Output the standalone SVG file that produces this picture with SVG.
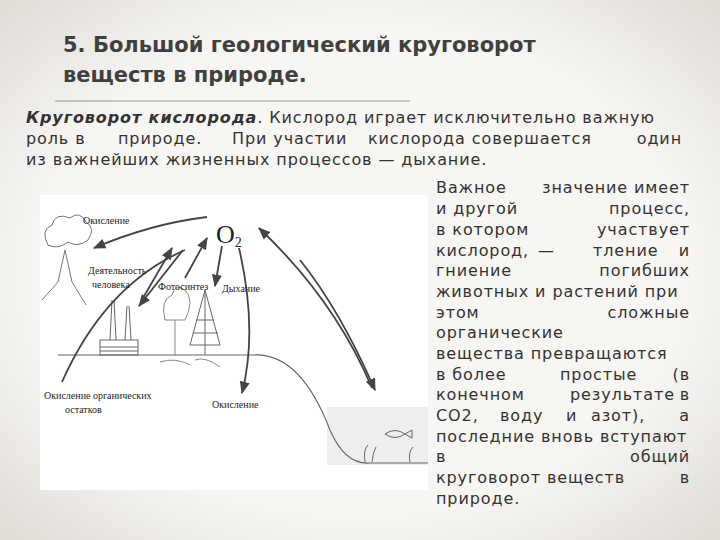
<svg xmlns="http://www.w3.org/2000/svg" width="720" height="540" viewBox="0 0 720 540">
<defs>
<radialGradient id="bg" cx="50%" cy="50%" r="75%"><stop offset="0.6" stop-color="#f7f6f3"/><stop offset="1" stop-color="#dcd8d2"/></radialGradient>
<marker id="ah" viewBox="0 0 10 10" refX="9" refY="5" markerWidth="7" markerHeight="7" orient="auto-start-reverse"><path d="M0,1 L10,5 L0,9 Z" fill="#444"/></marker>
<style>
.t{font-family:"DejaVu Sans","Noto Sans",sans-serif;fill:#333}
.h{font-size:21px;font-weight:bold;fill:#404040}
.p{font-size:16px;letter-spacing:0.9px}
.e{text-anchor:end}
.m{text-anchor:middle}
.l{font-family:"Liberation Serif",serif;fill:#222;font-size:10px}
.c{fill:none;stroke:#444;stroke-width:1.8;marker-end:url(#ah)}
.d{fill:none;stroke:#666;stroke-width:1.1}
</style>
</defs>
<rect width="720" height="540" fill="url(#bg)"/>
<g id="title">
<text class="t h" x="63" y="52">5. Большой геологический круговорот</text>
<text class="t h" x="63" y="82">веществ в природе.</text>
<line x1="55" y1="101" x2="410" y2="101" stroke="#999" stroke-width="1"/>
</g>
<g id="intro" class="t p">
<text x="26" y="123"><tspan font-style="italic" font-weight="bold">Круговорот кислорода</tspan>. Кислород играет исключительно важную</text>
<text x="26" y="144">роль в</text><text x="118" y="144">природе.</text><text x="232" y="144">При участии</text><text x="368" y="144">кислорода совершается</text><text class="e" x="682" y="144">один</text>
<text x="26" y="165">из важнейших жизненных процессов — дыхание.</text>
</g>
<g id="side" class="t p">
<text x="436" y="193">Важное</text><text class="e" x="690" y="193">значение имеет</text>
<text x="436" y="214">и другой</text><text class="e" x="690" y="214">процесс,</text>
<text x="436" y="235">в котором</text><text class="e" x="690" y="235">участвует</text>
<text x="436" y="256">кислород,</text><text x="538" y="256">—</text><text x="593" y="256">тление</text><text class="e" x="690" y="256">и</text>
<text x="436" y="276">гниение</text><text class="e" x="690" y="276">погибших</text>
<text x="436" y="297">животных и растений при</text>
<text x="436" y="318">этом</text><text class="e" x="690" y="318">сложные</text>
<text x="436" y="338">органические</text>
<text x="436" y="359">вещества превращаются</text>
<text x="436" y="380">в более</text><text x="560" y="380">простые</text><text class="e" x="690" y="380">(в</text>
<text x="436" y="400">конечном</text><text x="570" y="400">результате</text><text class="e" x="690" y="400">в</text>
<text x="436" y="421">CO2,</text><text x="500" y="421">воду</text><text x="566" y="421">и</text><text x="591" y="421">азот),</text><text class="e" x="690" y="421">а</text>
<text x="436" y="442">последние вновь вступают</text>
<text x="436" y="462">в</text><text class="e" x="690" y="462">общий</text>
<text x="436" y="483">круговорот веществ</text><text class="e" x="690" y="483">в</text>
<text x="436" y="504">природе.</text>
</g>
<g id="picture">
<rect x="40" y="195" width="388" height="295" fill="#fff"/>
<rect x="327" y="407" width="101" height="58" fill="#eeeeee"/>
<path d="M58,355 L253,355 Q300,352 330,430 Q345,465 370,463 L428,463" class="d" stroke-width="1.3"/>
<g id="volcano" fill="none" stroke="#777" stroke-width="1">
<path d="M42,300 L58,282 L65,250 L72,282 L86,305"/>
<path d="M48,245 Q40,230 52,225 Q55,212 70,218 Q80,210 86,222 Q96,228 88,240 Q78,248 68,242 Q58,250 48,245 Z"/>
</g>
<g id="factory" fill="none" stroke="#666" stroke-width="1">
<rect x="100" y="340" width="38" height="15"/>
<line x1="110" y1="340" x2="112" y2="300"/><line x1="116" y1="340" x2="114" y2="300"/>
<line x1="125" y1="340" x2="127" y2="306"/><line x1="131" y1="340" x2="129" y2="306"/>
<path d="M100,347 H138 M100,351 H138"/>
</g>
<g id="trees" fill="none" stroke="#888" stroke-width="1">
<path d="M175,355 L175,320 M165,320 Q160,300 172,295 Q175,283 185,290 Q195,300 185,320 Z"/>
<path d="M205,355 L205,290 M205,290 L190,345 L220,345 Z M196,320 L214,320 M193,333 L218,333" stroke="#666"/>
<path d="M160,362 Q175,357 190,365 M195,360 Q205,356 220,367"/>
</g>
<g id="fish" fill="none" stroke="#666">
<path d="M385,434 Q395,427 405,434 Q395,441 385,434 Z M405,434 L412,430 L412,438 Z"/>
<path d="M365,462 Q363,450 368,445 M372,462 Q373,452 376,447 M410,462 Q408,452 413,447"/>
</g>
<g id="connectors">
<path class="c" d="M207,217 Q150,224 94,248"/>
<path class="c" d="M62,382 Q105,285 185,250" style="marker-end:none"/>
<path class="c" d="M143,298 L172,248"/>
<path class="c" d="M183,250 L139,306"/>
<path class="c" d="M185,278 L207,238"/>
<path class="c" d="M222,246 L215,286"/>
<path class="c" d="M239,248 Q258,330 242,393"/>
<path class="c" d="M300,260 Q340,310 375,390"/>
<path class="c" d="M372,388 Q335,300 259,228"/>
</g>
<g id="labels">
<text x="216" y="243" font-family="Liberation Serif,serif" font-size="26" fill="#222">O<tspan font-size="14" dy="4">2</tspan></text>
<text class="l" x="83" y="224">Окисление</text>
<text class="l" x="88" y="274" font-size="8">Деятельность</text>
<text class="l" x="92" y="288" font-size="8">человека</text>
<text class="l" x="158" y="290" font-size="7">Фотосинтез</text>
<text class="l" x="222" y="292">Дыхание</text>
<text class="l" x="44" y="399">Окисление органических</text>
<text class="l" x="65" y="413">остатков</text>
<text class="l" x="212" y="408">Окисление</text>
</g>
</g>
</svg>
